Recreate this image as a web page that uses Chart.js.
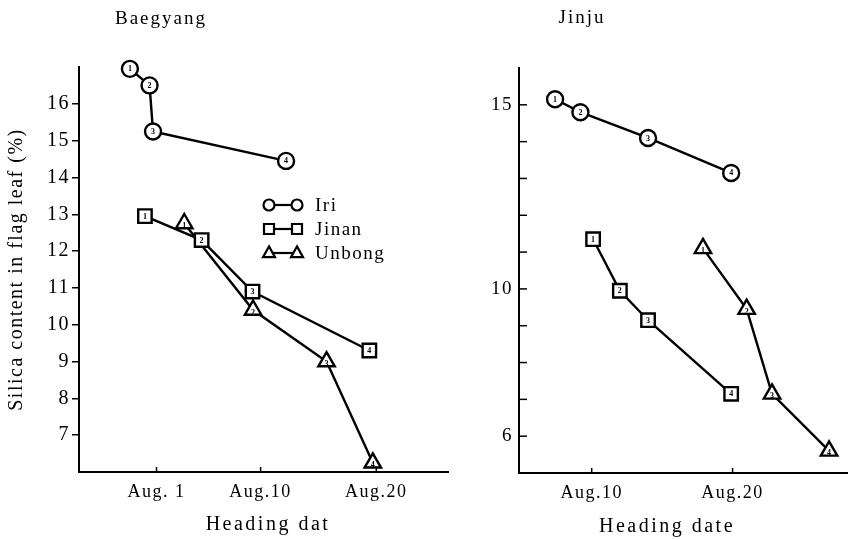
<!DOCTYPE html>
<html><head><meta charset="utf-8">
<script src="https://cdn.jsdelivr.net/npm/chart.js@4.4.1/dist/chart.umd.min.js"></script>
<style>
html,body{margin:0;padding:0;background:#fff;}
#wrap{position:relative;width:859px;height:540px;overflow:hidden;background:#fff;}
canvas{position:absolute;top:0;}
</style></head><body>
<div id="wrap">
<canvas id="left" width="470" height="540" style="left:0px"></canvas>
<canvas id="right" width="389" height="540" style="left:470px"></canvas>
</div>
<script>
// ---------- DATA (x = day of August; <=0 means late July) ----------
const seriesNames = ['Iri', 'Jinan', 'Unbong'];

const baegyangIriDay      = [-1.3, 0.4, 0.7, 12.2];
const baegyangIriSilica   = [16.95, 16.5, 15.25, 14.45];
const baegyangJinanDay    = [0.0, 4.9, 9.3, 19.4];
const baegyangJinanSilica = [12.95, 12.3, 10.9, 9.3];
const baegyangUnbongDay   = [3.4, 9.35, 15.7, 19.7];
const baegyangUnbongSilica= [12.75, 10.4, 9.0, 6.25];

const jinjuIriDay      = [7.4, 9.2, 14.0, 19.9];
const jinjuIriSilica   = [15.15, 14.8, 14.1, 13.15];
const jinjuJinanDay    = [10.1, 12.0, 14.0, 19.9];
const jinjuJinanSilica = [11.35, 9.95, 9.15, 7.15];
const jinjuUnbongDay   = [17.9, 21.0, 22.8, 26.85];
const jinjuUnbongSilica= [11.1, 9.45, 7.15, 5.6];

const baegyangXTicks  = [1, 10, 20];
const baegyangXLabels = ['Aug. 1', 'Aug.10', 'Aug.20'];
const baegyangYTicks  = [7, 8, 9, 10, 11, 12, 13, 14, 15, 16];
const baegyangYLabels = ['7', '8', '9', '10', '11', '12', '13', '14', '15', '16'];

const jinjuXTicks  = [10, 20];
const jinjuXLabels = ['Aug.10', 'Aug.20'];
const jinjuYTicks  = [6, 7, 8, 9, 10, 11, 12, 13, 14, 15];
const jinjuYLabels = ['6', '', '', '', '10', '', '', '', '', '15'];

const panelTitles = ['Baegyang', 'Jinju'];
const yAxisTitle = 'Silica content in flag leaf (%)';
const xAxisTitles = ['Heading dat', 'Heading date'];

// ---------- STYLE ----------
const SERIF = "'Liberation Serif','Times New Roman',serif";
const markerStyle = {Iri: {style: 'circle', r: 8}, Jinan: {style: 'rect', r: 9.5}, Unbong: {style: 'triangle', r: 9.5}};

function zip(xs, ys) { return xs.map((x, i) => ({x: x, y: ys[i]})); }

function makeDatasets(pairs) {
  return pairs.map((p, i) => {
    const name = seriesNames[i];
    const m = markerStyle[name];
    return {
      label: name, data: zip(p[0], p[1]), showLine: true, tension: 0,
      borderColor: '#000', borderWidth: 2.4, backgroundColor: '#fff',
      pointStyle: m.style, pointRadius: m.r, pointHoverRadius: m.r,
      pointBorderWidth: 2.4, pointBackgroundColor: '#fff', pointBorderColor: '#000',
      clip: false
    };
  });
}

function drawMarker(ctx, style, x, y, r) {
  ctx.beginPath();
  if (style === 'circle') {
    ctx.arc(x, y, r, 0, Math.PI * 2);
  } else if (style === 'rect') {
    ctx.rect(x - r, y - r, 2 * r, 2 * r);
  } else {
    ctx.moveTo(x, y - r * 1.1);
    ctx.lineTo(x + r, y + r * 0.7);
    ctx.lineTo(x - r, y + r * 0.7);
    ctx.closePath();
  }
  ctx.fillStyle = '#fff';
  ctx.fill();
  ctx.stroke();
}

const spacingPlugin = {id: 'spacing', beforeDraw(chart) { chart.ctx.letterSpacing = '1.5px'; }};

const numberPlugin = {
  id: 'numbers',
  afterDatasetsDraw(chart) {
    const ctx = chart.ctx;
    ctx.save();
    ctx.letterSpacing = '0px';
    ctx.fillStyle = '#000';
    ctx.font = 'bold 8px ' + SERIF;
    ctx.textAlign = 'center';
    ctx.textBaseline = 'middle';
    chart.data.datasets.forEach((ds, di) => {
      const meta = chart.getDatasetMeta(di);
      meta.data.forEach((el, i) => {
        const dy = ds.pointStyle === 'triangle' ? 2.5 : 0.5;
        ctx.fillText(String(i + 1), el.x, el.y + dy);
      });
    });
    ctx.restore();
  }
};

function inTicksPlugin(list) {
  return {
    id: 'inTicks',
    afterDraw(chart) {
      const ctx = chart.ctx;
      ctx.save();
      ctx.strokeStyle = '#000';
      ctx.lineWidth = 1.5;
      list.forEach(s => {
        const sc = chart.scales[s.id];
        sc.ticks.forEach(t => {
          const p = sc.getPixelForValue(t.value);
          ctx.beginPath();
          if (sc.isHorizontal()) { ctx.moveTo(p, sc.top); ctx.lineTo(p, sc.top - s.len); }
          else { ctx.moveTo(sc.right, p); ctx.lineTo(sc.right + s.len, p); }
          ctx.stroke();
        });
      });
      ctx.restore();
    }
  };
}

function textPlugin(items) {
  return {
    id: 'texts',
    afterDraw(chart) {
      const ctx = chart.ctx;
      ctx.save();
      items.forEach(t => {
        ctx.letterSpacing = t.spacing + 'px';
        ctx.font = t.size + 'px ' + SERIF;
        ctx.fillStyle = '#000';
        ctx.textAlign = 'center';
        ctx.textBaseline = 'middle';
        ctx.fillText(t.text, t.x, t.y);
      });
      ctx.restore();
    }
  };
}

function legendPlugin(x0, y0, dy) {
  return {
    id: 'customLegend',
    afterDraw(chart) {
      const ctx = chart.ctx;
      ctx.save();
      ctx.strokeStyle = '#000';
      ctx.lineWidth = 2.2;
      chart.data.datasets.forEach((ds, i) => {
        const y = y0 + i * dy;
        const xa = x0, xb = x0 + 28;
        ctx.beginPath(); ctx.moveTo(xa, y); ctx.lineTo(xb, y); ctx.stroke();
        const st = ds.pointStyle;
        const r = st === 'circle' ? 5.5 : (st === 'rect' ? 5 : 6);
        drawMarker(ctx, st, xa, y, r);
        drawMarker(ctx, st, xb, y, r);
        ctx.letterSpacing = '1.5px';
        ctx.font = '19px ' + SERIF;
        ctx.fillStyle = '#000';
        ctx.textAlign = 'left';
        ctx.textBaseline = 'middle';
        ctx.fillText(ds.label, x0 + 46, y + 1);
      });
      ctx.restore();
    }
  };
}

function xScale(min, max, ticks, labels) {
  return {
    type: 'linear', min: min, max: max,
    afterBuildTicks(s) { s.ticks = ticks.map(v => ({value: v})); },
    afterFit(s) { s.height = 40; },
    ticks: {autoSkip: false, maxRotation: 0, padding: 9, color: '#000',
      font: {family: SERIF, size: 18},
      callback: (v) => labels[ticks.indexOf(v)]},
    grid: {display: false, drawTicks: false},
    border: {display: true, color: '#000', width: 2}
  };
}

// ---------- LEFT PANEL: Baegyang ----------
new Chart(document.getElementById('left'), {
  type: 'scatter',
  data: {datasets: makeDatasets([
    [baegyangIriDay, baegyangIriSilica],
    [baegyangJinanDay, baegyangJinanSilica],
    [baegyangUnbongDay, baegyangUnbongSilica]])},
  options: {
    responsive: false, animation: false, devicePixelRatio: 1,
    layout: {padding: {left: 0, right: 22, top: 67, bottom: 28}},
    plugins: {legend: {display: false}, tooltip: {enabled: false}},
    scales: {
      x: xScale(-5.7, 26.2, baegyangXTicks, baegyangXLabels),
      y: {
        type: 'linear', min: 6, max: 17,
        afterBuildTicks(s) { s.ticks = baegyangYTicks.map(v => ({value: v})); },
        afterFit(s) { s.width = 79; },
        ticks: {autoSkip: false, padding: 2, color: '#000', font: {family: SERIF, size: 20},
          callback: (v) => baegyangYLabels[baegyangYTicks.indexOf(v)]},
        grid: {display: true, drawOnChartArea: false, drawTicks: true, tickLength: 7, color: '#000', lineWidth: 1.5},
        border: {display: true, color: '#000', width: 2},
        title: {display: true, text: yAxisTitle, color: '#000', font: {family: SERIF, size: 20}, padding: {top: 5, bottom: 0}}
      }
    }
  },
  plugins: [spacingPlugin, numberPlugin, inTicksPlugin([{id: 'x', len: 5}]),
    textPlugin([{text: panelTitles[0], x: 161, y: 19, size: 19, spacing: 2},
                {text: xAxisTitles[0], x: 268, y: 525, size: 20, spacing: 2.5}]),
    legendPlugin(269, 205, 24)]
});

// ---------- RIGHT PANEL: Jinju ----------
new Chart(document.getElementById('right'), {
  type: 'scatter',
  data: {datasets: makeDatasets([
    [jinjuIriDay, jinjuIriSilica],
    [jinjuJinanDay, jinjuJinanSilica],
    [jinjuUnbongDay, jinjuUnbongSilica]])},
  options: {
    responsive: false, animation: false, devicePixelRatio: 1,
    layout: {padding: {left: 0, right: 0, top: 68, bottom: 27}},
    plugins: {legend: {display: false}, tooltip: {enabled: false}},
    scales: {
      x: xScale(4.84, 28.13, jinjuXTicks, jinjuXLabels),
      y: {
        type: 'linear', min: 5, max: 16,
        afterBuildTicks(s) { s.ticks = jinjuYTicks.map(v => ({value: v})); },
        afterFit(s) { s.width = 49; },
        ticks: {autoSkip: false, padding: 6, color: '#000', font: {family: SERIF, size: 19},
          callback: (v) => jinjuYLabels[jinjuYTicks.indexOf(v)]},
        grid: {display: false, drawTicks: false},
        border: {display: true, color: '#000', width: 2}
      }
    }
  },
  plugins: [spacingPlugin, numberPlugin, inTicksPlugin([{id: 'x', len: 5}, {id: 'y', len: 8}]),
    textPlugin([{text: panelTitles[1], x: 112, y: 18, size: 19, spacing: 2},
                {text: xAxisTitles[1], x: 197, y: 527, size: 20, spacing: 2.5}])]
});
</script>
</body></html>
